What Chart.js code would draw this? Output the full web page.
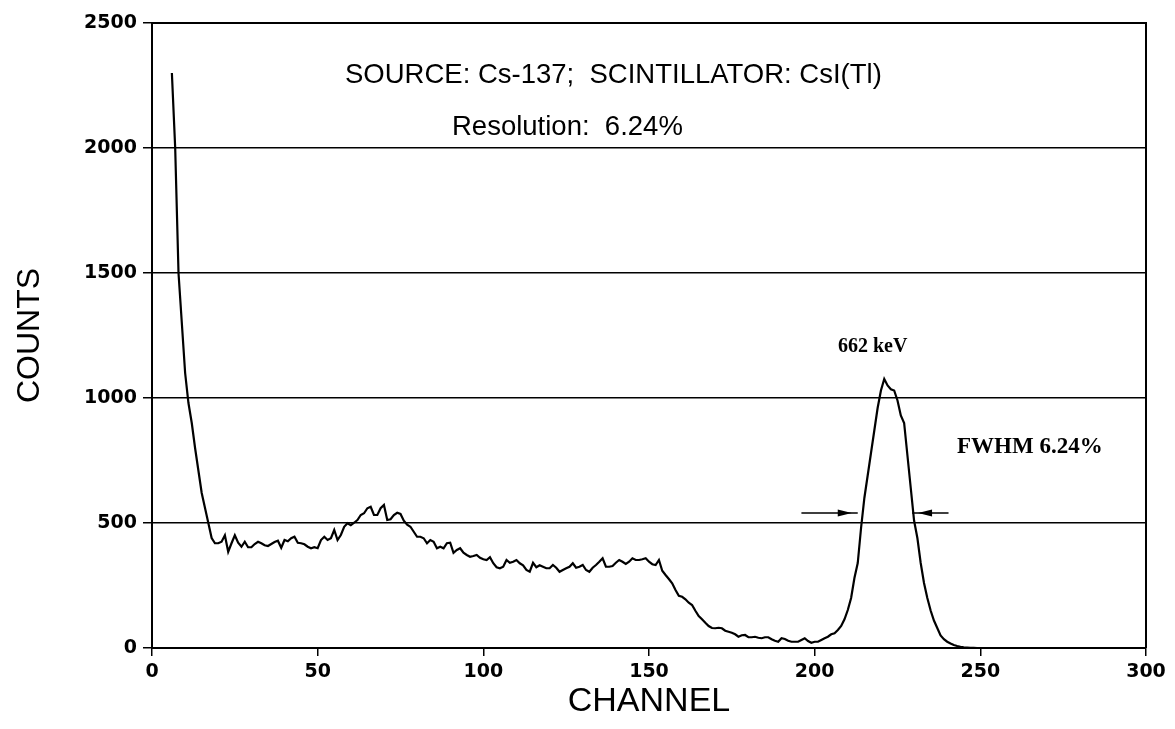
<!DOCTYPE html>
<html>
<head>
<meta charset="utf-8">
<script src="https://cdn.jsdelivr.net/npm/chart.js@4"></script>
<style>
  html, body { margin: 0; padding: 0; background: #fff; }
  #wrap { width: 1175px; height: 729px; }
</style>
</head>
<body>
<div id="wrap"><canvas id="chart" width="1175" height="729"></canvas></div>
<script>
// Cs-137 spectrum, CsI(Tl) - counts, one value per channel
const firstChannel = 6;
const counts = [
  2300, 2000, 1500, 1300, 1100, 980, 900, 800, 710, 620, 560, 500, 440,          // 6-18
  419, 419, 425, 451, 385, 419, 451, 421, 405, 425, 403, 403, 416, 425, 419,     // 19-33
  411, 408, 416, 424, 429, 401, 432, 427, 439, 445, 421, 419, 415, 405, 399,     // 34-48
  403, 399, 432, 445, 432, 439, 472, 432, 452, 485, 499, 491, 501, 512, 532,     // 49-63
  539, 559, 565, 532, 532, 559, 572, 512, 515, 532, 541, 536, 509, 493, 485,     // 64-78
  465, 445, 445, 439, 419, 432, 425, 399, 405, 399, 419, 421, 381, 392, 399,     // 79-93
  381, 372, 365, 368, 372, 361, 355, 352, 363, 339, 323, 319, 325, 352, 341,     // 94-108
  345, 352, 339, 331, 312, 305, 341, 323, 331, 325, 319, 319, 332, 321, 305,     // 109-123
  312, 319, 325, 339, 321, 325, 332, 312, 305, 321, 332, 345, 359, 325, 325,     // 124-138
  328, 341, 352, 345, 336, 345, 359, 352, 352, 355, 359, 345, 335, 332, 352,     // 139-153
  309, 292, 276, 259, 232, 209, 205, 195, 181, 172, 149, 128, 115, 101, 88,      // 154-168
  80, 79, 81, 79, 69, 65, 61, 55, 45, 51, 52, 43, 43, 45, 41,                    // 169-183
  39, 43, 43, 35, 29, 25, 39, 36, 29, 25, 25, 25, 32, 39, 28,                    // 184-198
  21, 25, 25, 32, 39, 45, 55, 59, 72, 88, 115, 152, 200, 280, 340,               // 199-213
  480, 600, 690, 780, 870, 960, 1030, 1076, 1050, 1035, 1030, 990, 930, 900, 770,// 214-228
  640, 510, 440, 340, 260, 200, 150, 110, 80, 50, 35, 25, 18, 12, 8,             // 229-243
  5, 3, 2, 1, 1, 0, 0, 0, 0, 0, 0, 0                                             // 244-255
];
const channels = counts.map((_, i) => firstChannel + i);

const xTicks = [0, 50, 100, 150, 200, 250, 300];
const yTicks = [0, 500, 1000, 1500, 2000, 2500];

const headerLines = ["SOURCE: Cs-137;  SCINTILLATOR: CsI(Tl)", "Resolution:  6.24%"];
const peakLabel = "662 keV";
const fwhmLabel = "FWHM 6.24%";
// FWHM arrows: [from channel, to channel] at this count level
const fwhmLevel = 540;
const fwhmLeft = [196, 213];
const fwhmRight = [229.4, 240.4];

const points = channels.map((c, i) => ({ x: c, y: counts[i] }));

const notes = {
  id: 'notes',
  afterDraw(chart) {
    const { ctx, chartArea: a, scales: { x, y } } = chart;
    ctx.save();
    // frame: top and right edges
    ctx.strokeStyle = '#000';
    ctx.lineWidth = 2;
    ctx.beginPath();
    ctx.moveTo(a.left, a.top);
    ctx.lineTo(a.right, a.top);
    ctx.lineTo(a.right, a.bottom);
    ctx.stroke();

    ctx.fillStyle = '#000';
    ctx.textBaseline = 'alphabetic';
    ctx.font = '27.5px "Liberation Sans", Arial, sans-serif';
    ctx.textAlign = 'left';
    ctx.fillText(headerLines[0], 345, 83);
    ctx.fillText(headerLines[1], 452, 135);

    ctx.font = 'bold 20px "Liberation Serif", "Times New Roman", serif';
    ctx.fillText(peakLabel, 838, 352);
    ctx.font = 'bold 23px "Liberation Serif", "Times New Roman", serif';
    ctx.fillText(fwhmLabel, 957, 453);

    // arrows
    const ay = y.getPixelForValue(fwhmLevel);
    ctx.lineWidth = 1.5;
    ctx.beginPath();
    ctx.moveTo(x.getPixelForValue(fwhmLeft[0]), ay);
    ctx.lineTo(x.getPixelForValue(fwhmLeft[1]), ay);
    ctx.moveTo(x.getPixelForValue(fwhmRight[0]), ay);
    ctx.lineTo(x.getPixelForValue(fwhmRight[1]), ay);
    ctx.stroke();
    const head = (tipX, dir) => {
      ctx.beginPath();
      ctx.moveTo(tipX, ay);
      ctx.lineTo(tipX - dir * 14, ay - 3.5);
      ctx.lineTo(tipX - dir * 14, ay + 3.5);
      ctx.closePath();
      ctx.fill();
    };
    head(x.getPixelForValue(fwhmLeft[1]) - 6, 1);
    head(x.getPixelForValue(fwhmRight[0]) + 6, -1);
    ctx.restore();
  }
};

const tickFont = { family: 'DejaVu Sans', weight: 'bold', size: 19 };

new Chart(document.getElementById('chart'), {
  type: 'line',
  data: {
    datasets: [{
      data: points,
      borderColor: '#000',
      borderWidth: 2.2,
      pointRadius: 0,
      tension: 0,
      fill: false
    }]
  },
  options: {
    responsive: false,
    animation: false,
    layout: { padding: { top: 23, right: 29, left: 0, bottom: 0 } },
    plugins: { legend: { display: false }, tooltip: { enabled: false } },
    scales: {
      x: {
        type: 'linear',
        min: 0, max: 300,
        afterFit: s => { s.height = 81; },
        afterBuildTicks: s => { s.ticks = xTicks.map(v => ({ value: v })); },
        grid: { drawOnChartArea: false, color: '#000', lineWidth: 1.5, tickLength: 8 },
        border: { color: '#000', width: 2 },
        ticks: { color: '#000', padding: 5, font: tickFont, callback: v => String(v) },
        title: {
          display: true, text: 'CHANNEL', color: '#000',
          font: { family: 'Liberation Sans', size: 34 },
          padding: { top: 0, bottom: 7 }
        }
      },
      y: {
        min: 0, max: 2500,
        afterFit: s => { s.width = 152; },
        afterBuildTicks: s => { s.ticks = yTicks.map(v => ({ value: v })); },
        grid: { color: '#000', lineWidth: 1.5, tickLength: 9 },
        border: { color: '#000', width: 2 },
        ticks: { color: '#000', padding: 6, font: tickFont, callback: v => String(v) },
        title: {
          display: true, text: 'COUNTS', color: '#000',
          font: { family: 'Liberation Sans', size: 32 },
          padding: { top: 11, bottom: 0 }
        }
      }
    }
  },
  plugins: [notes]
});
</script>
</body>
</html>
